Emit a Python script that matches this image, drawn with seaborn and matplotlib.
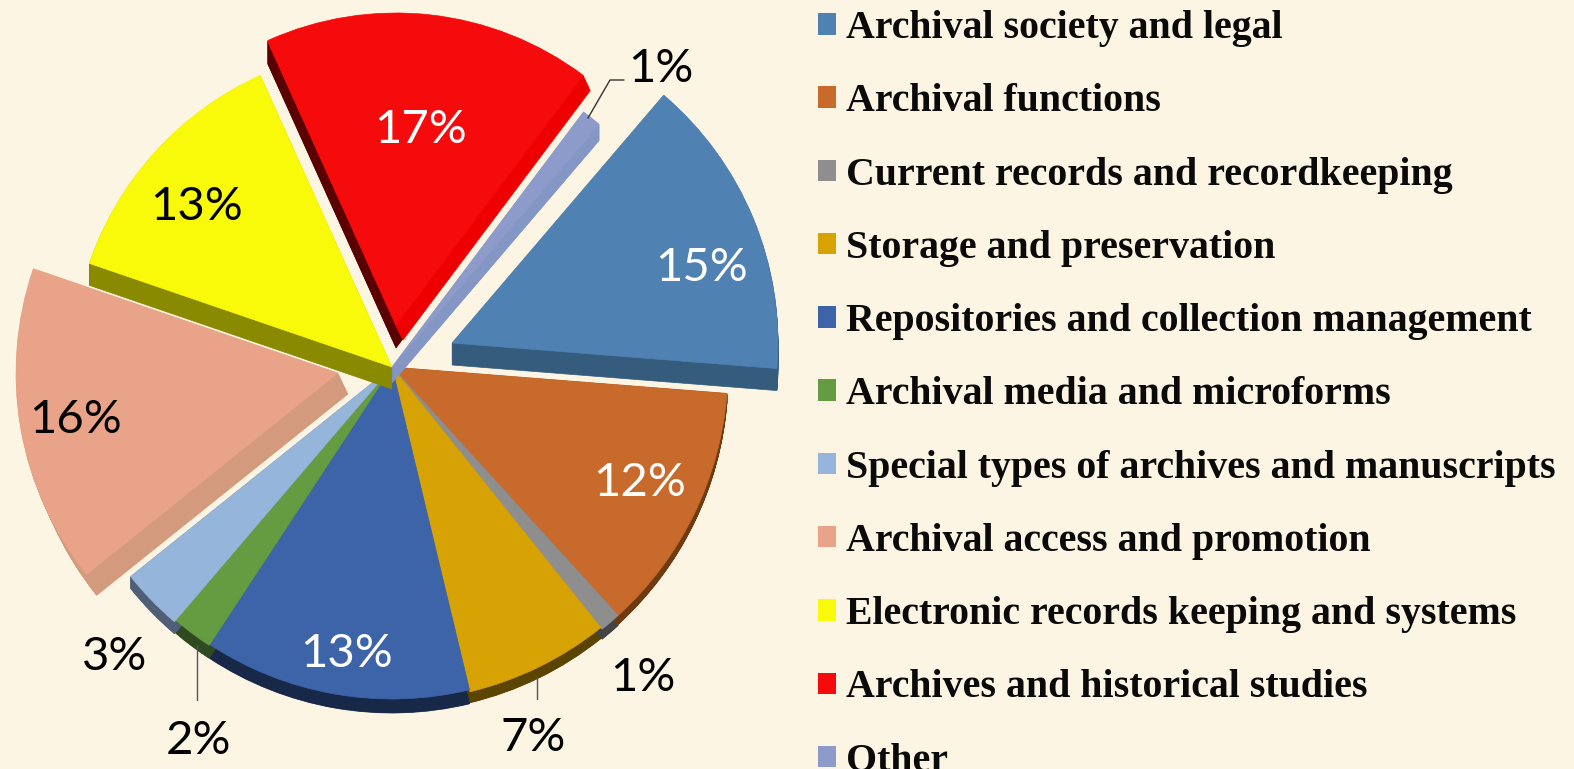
"""Pie chart of archival subject areas, drawn with fake 3D sides."""
import matplotlib
matplotlib.use('Agg')
import matplotlib.pyplot as plt
from matplotlib.patches import Patch
import seaborn as sns

# data
categories = ['Archival society and legal', 'Archival functions', 'Current records and recordkeeping',
              'Storage and preservation', 'Repositories and collection management',
              'Archival media and microforms', 'Special types of archives and manuscripts',
              'Archival access and promotion', 'Electronic records keeping and systems',
              'Archives and historical studies', 'Other']
values = [15, 12, 1, 7, 13, 2, 3, 16, 13, 17, 1]

colors = ['#4f81b3', '#c86a2b', '#8e8e8e', '#d6a204', '#3d64a8', '#659b41',
          '#95b5da', '#e8a388', '#f9fa0a', '#f50b0b', '#8d9bcb']
sides = ['#355b7d', '#6d3a12', '#444444', '#5a4400', '#172848', '#2f4a20',
         '#4f6076', '#d49a7d', '#8a8a00', '#5a0000', '#8496c3']

W, H = 1574, 769
BG = '#fdf5e4'

# slice layout in pixels, measured from the top left of the picture
apex = [(452, 343), (392, 367), (392, 367), (392, 367), (392, 367), (392, 367),
        (392, 367), (338, 373), (392, 367), (396, 325), (392, 367)]
radius = [326, 336, 336, 334, 332, 333, 335, 322, 320, 312, 319]
depth = [(0, 22), (0, 9), (0, 10), (0, 11), (0, 14), (0, 13),
         (0, 12), (10, 21), (0, 22), (0, 23), (0, 16)]
order = [9, 1, 1, 1, 1, 1, 1, 3, 4, 5, 6]

# label centres in pixels
label_xy = [(702, 268), (640, 483), (643, 678), (533, 738), (347, 654), (199, 741),
            (115, 657), (76, 420), (197, 207), (421, 130), (661, 69)]
label_color = ['white', 'white', 'black', 'black', 'white', 'black',
               'black', 'black', 'black', 'white', 'black']

sns.set_theme(style='white')
plt.rcParams['font.family'] = ['Lato', 'DejaVu Sans']

fig = plt.figure(figsize=(W / 100, H / 100), dpi=100, facecolor=BG)
ax = fig.add_axes([0, 0, 1, 1])


def draw_layer(shift, face, z, only=None):
    wedges, _ = ax.pie(values, startangle=49.5, counterclock=False, frame=True)
    for i, w in enumerate(wedges):
        if only is not None and i != only:
            w.remove()
            continue
        dx, dy = shift(i)
        w.set_center((apex[i][0] + dx, H - apex[i][1] - dy))
        w.set_radius(radius[i])
        w.set_facecolor(face[i])
        w.set_edgecolor(face[i])
        w.set_linewidth(0.5)
        w.set_zorder(z(i))


# sides first, one copy per step, then the top faces
for s in range(1, 25):
    draw_layer(lambda i: (depth[i][0] * s / 24, depth[i][1] * s / 24), sides,
               lambda i: order[i] * 2)
# the right hand side of the red slice catches the light
for s in range(1, 13):
    draw_layer(lambda i: (7 * s / 12, 15 * s / 12), ['#ee0000'] * len(values),
               lambda i: order[i] * 2 + 0.5, only=9)
draw_layer(lambda i: (0, 0), colors, lambda i: order[i] * 2 + 1)

# percent labels
for v, (x, y), c in zip(values, label_xy, label_color):
    ax.text(x, H - y, f'{v}%', color=c, fontsize=34, ha='center', va='center', zorder=30)

# leader lines
ax.plot([588, 610, 624], [H - 118, H - 80, H - 80], color='#333333', lw=1, zorder=25)
ax.plot([197, 197], [H - 645, H - 700], color='#555555', lw=1, zorder=25)
ax.plot([537, 537], [H - 677, H - 699], color='#555555', lw=1, zorder=25)

ax.set_xlim(0, W)
ax.set_ylim(0, H)
ax.set_aspect('equal')
ax.axis('off')

# legend, the last row runs close to the bottom edge as in the source
handles = [Patch(facecolor=c, edgecolor='none') for c in colors]
leg = fig.legend(handles, categories, loc='upper left', bbox_to_anchor=(818 / W, 1 - 10 / H),
                 frameon=False, ncol=1, handlelength=0.45, handleheight=0.45, handletextpad=0.25,
                 labelspacing=0.91, borderpad=0, borderaxespad=0,
                 prop={'family': 'Liberation Serif', 'weight': 'bold', 'size': 28.7})
for t in leg.get_texts():
    t.set_color('#0a0a0a')

fig.savefig('out.png', dpi=100, facecolor=BG)
plt.close(fig)
